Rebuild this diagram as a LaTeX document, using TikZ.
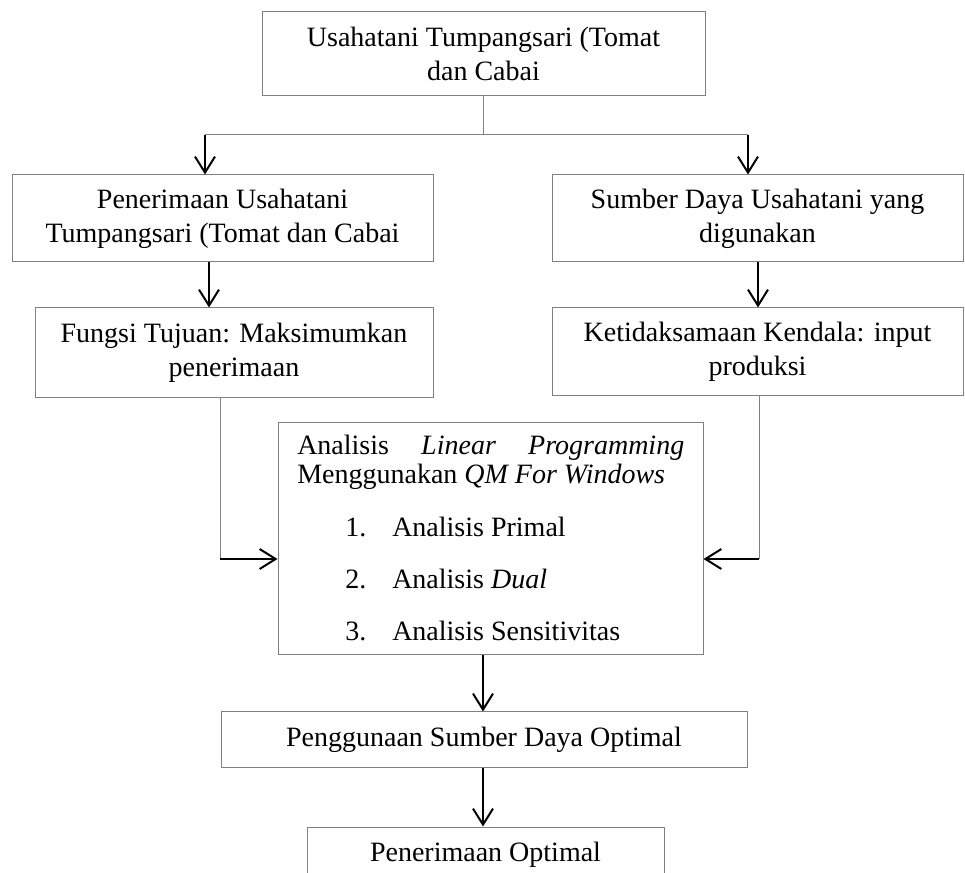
\documentclass[tikz,border=0pt]{standalone}
\usepackage{fontspec}
\setmainfont{Liberation Serif}
\usetikzlibrary{arrows.meta}
\definecolor{boxgray}{RGB}{128,128,128}
\begin{document}
\begin{tikzpicture}[x=0.75pt,y=-0.75pt,
  box/.style={draw=boxgray, line width=0.75pt, inner sep=0pt, align=center,
              font=\fontsize{21}{25.5}\selectfont},
  sz/.style 2 args={minimum width=#1*0.75pt, minimum height=#2*0.75pt},
  link/.style={draw=boxgray, line width=0.75pt},
  arr/.style={draw=black, line width=1.5pt, -{Straight Barb[length=12pt,width=15pt]}},
  txt/.style={inner sep=0pt, anchor=base west, font=\fontsize{21}{24.75}\selectfont}]
\useasboundingbox (0,0) rectangle (965,873);
\clip (0,0) rectangle (965,873);

% boxes
\node[box, sz={443}{84}] (top) at (483.5,54) {Usahatani Tumpangsari (Tomat\\dan Cabai};
\node[box, sz={421}{87}] (pen) at (222.5,218.5) {Penerimaan Usahatani\\Tumpangsari (Tomat dan Cabai};
\node[box, sz={411}{87}] (sum) at (757.5,218.5) {Sumber Daya Usahatani yang\\digunakan};
\node[box, sz={398}{90}] (fun) at (234,353) {Fungsi Tujuan: Maksimumkan\\penerimaan};
\node[box, sz={411}{88}] (ket) at (757.5,352) {Ketidaksamaan Kendala: input\\produksi};
\node[box, sz={425}{232}] (ana) at (490.5,539) {};
\node[box, sz={526}{55}] (pgs) at (484,739.5) {Penggunaan Sumber Daya Optimal};
\node[box, sz={357}{55}] (opt) at (485.5,854.5) {Penerimaan Optimal};

% analysis text
\node[txt] (h1) at (297,455) {\makebox[290.25pt][s]{Analisis \textit{Linear} \textit{Programming}}};
\node[txt] (h2) at (297,484) {Menggunakan \textit{QM For Windows}};
\node[txt] (n1) at (345,537) {1.};
\node[txt] (i1) at (392,537) {Analisis Primal};
\node[txt] (n2) at (345,589) {2.};
\node[txt] (i2) at (392,589) {Analisis \textit{Dual}};
\node[txt] (n3) at (345,641) {3.};
\node[txt] (i3) at (392,641) {Analisis Sensitivitas};

% connector coordinates
\coordinate (spl) at (205,135);
\coordinate (spr) at (748,135);
\coordinate (cl) at (209,0);
\coordinate (cr) at (758,0);
\coordinate (lc) at (220,559);
\coordinate (rc) at (759,559);
\coordinate (mx) at (483,0);

% top split
\draw[link] (top.south) -- (top.south |- spl);
\draw[link] (spl) -- (spr);
\draw[arr] (spl) -- (spl |- pen.north);
\draw[arr] (spr) -- (spr |- sum.north);

% columns
\draw[arr] (cl |- pen.south) -- (cl |- fun.north);
\draw[arr] (cr |- sum.south) -- (cr |- ket.north);

% into analysis
\draw[link] (lc |- fun.south) -- (lc);
\draw[arr] (lc) -- (lc -| ana.west);
\draw[link] (rc |- ket.south) -- (rc);
\draw[arr] (rc) -- (rc -| ana.east);

% bottom chain
\draw[arr] (mx |- ana.south) -- (mx |- pgs.north);
\draw[arr] (mx |- pgs.south) -- (mx |- opt.north);
\end{tikzpicture}
\end{document}
